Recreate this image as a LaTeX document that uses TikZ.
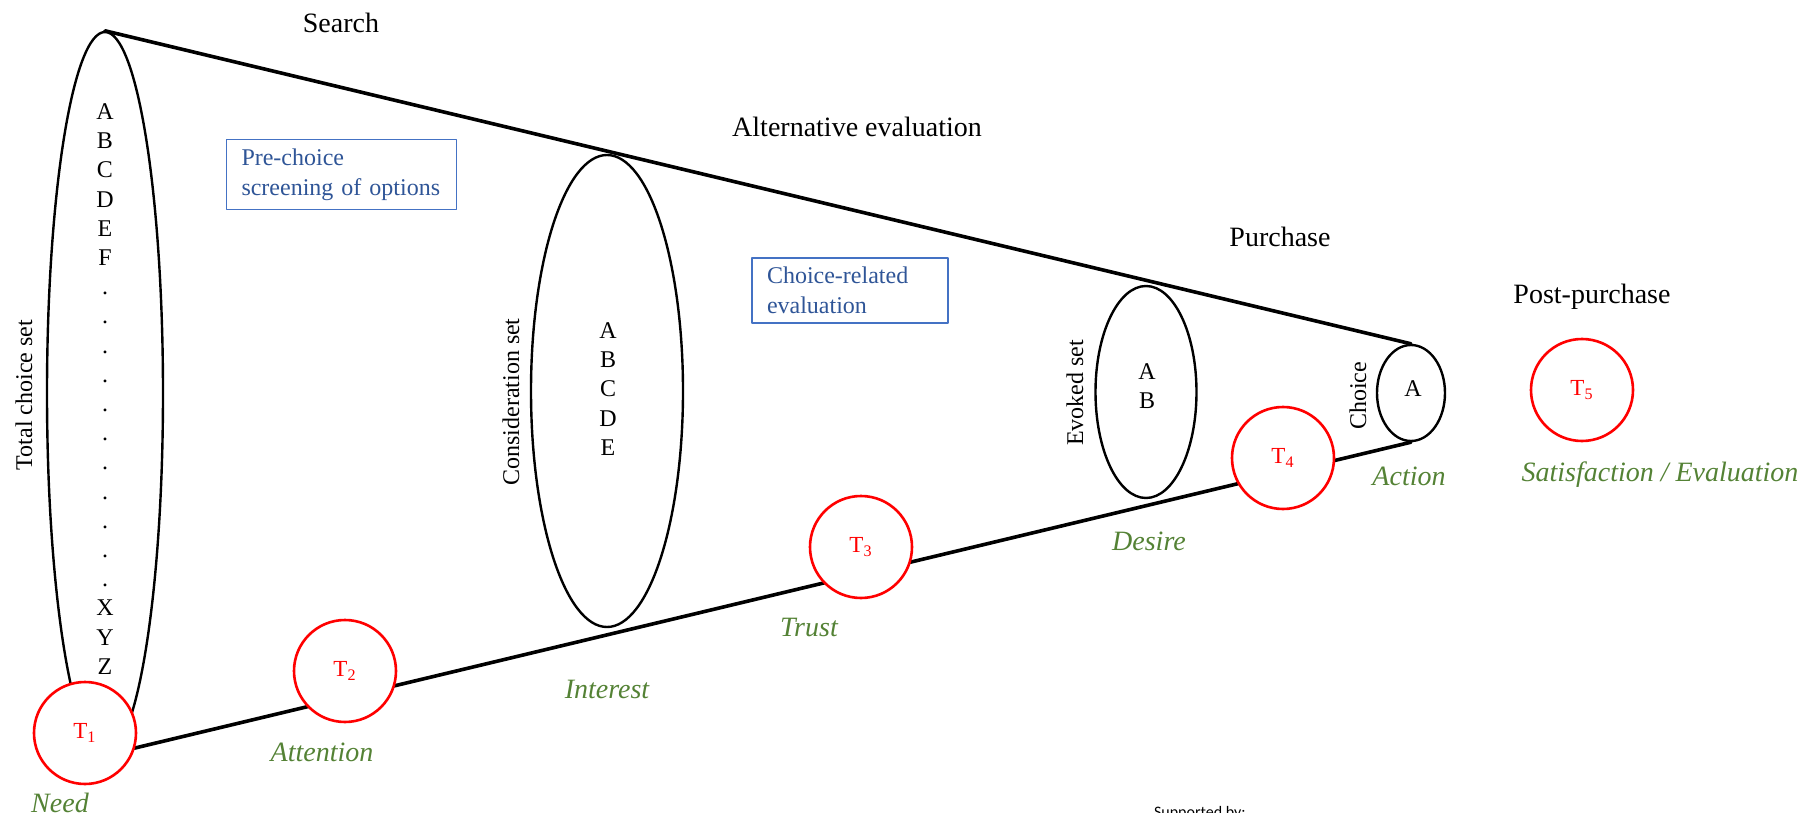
\documentclass[tikz,border=0pt]{standalone}
\usepackage{fontspec}
\setmainfont{Liberation Serif}
\newfontfamily\supfont{Carlito}
\usetikzlibrary{shapes.geometric}
\definecolor{aidagreen}{RGB}{84,130,53}
\definecolor{notetext}{RGB}{47,85,151}
\definecolor{noteline}{RGB}{68,114,196}

\begin{document}
\begin{tikzpicture}[x=0.5pt,y=-0.5pt,line cap=round,line join=round,
  setring/.style={ellipse,draw,line width=1.2pt,inner sep=0pt},
  items/.style={align=center,inner sep=0pt,font=\fontsize{12}{14.6}\selectfont},
  touch/.style={circle,draw=red,fill=white,line width=1.3pt,minimum size=51pt,inner sep=0pt,
    text=red,font=\fontsize{11.5}{13}\selectfont},
  stage/.style={font=\fontsize{14}{16}\selectfont},
  aida/.style={text=aidagreen,font=\fontsize{14}{16}\selectfont\itshape},
  setname/.style={rotate=90,font=\fontsize{12}{14}\selectfont},
  note/.style={draw=noteline,line width=0.6pt,text=notetext,align=left,
    font=\fontsize{12}{15}\selectfont,inner xsep=7.5pt,inner ysep=4.5pt},
  cone/.style={line width=1.8pt}]
  \useasboundingbox (0,0) rectangle (1812,813);
  \clip (0,0) rectangle (1812,813);

  % the four sets
  \node[setring,minimum width=58pt,minimum height=361pt] (total) at (105,393) {};
  \node[setring,minimum width=76pt,minimum height=236pt] (consid) at (607,391) {};
  \node[setring,minimum width=50.5pt,minimum height=106pt] (evoked) at (1146,392) {};
  \node[setring,minimum width=34pt,minimum height=48pt] (choice) at (1411,393) {};

  \node[items] (totalitems) at (105,389)
    {A\\B\\C\\D\\E\\F\\.\\.\\.\\.\\.\\.\\.\\.\\.\\.\\.\\X\\Y\\Z};
  \node[items] (considitems) at (608,389) {A\\B\\C\\D\\E};
  \node[items] (evokeditems) at (1147,386) {A\\B};
  \node[items] (choiceitems) at (1413,389) {A};

  \node[setname] (totalname) at (24,395) {Total choice set};
  \node[setname] (considname) at (511,402) {Consideration set};
  \node[setname] (evokedname) at (1075,393) {Evoked set};
  \node[setname] (choicename) at (1358,396) {Choice};

  % funnel
  \draw[cone] (total.north) -- (choice.north);
  \draw[cone] (total.south) -- (choice.south);

  % touchpoints
  \node[touch] (t1) at (85,733) {T\textsubscript{1}};
  \node[touch] (t2) at (345,671) {T\textsubscript{2}};
  \node[touch] (t3) at (861,547) {T\textsubscript{3}};
  \node[touch] (t4) at (1283,458) {T\textsubscript{4}};
  \node[touch] (t5) at (1582,390) {T\textsubscript{5}};

  \node[aida] (need) at (60,803) {Need};
  \node[aida] (attention) at (322,752) {Attention};
  \node[aida] (interest) at (607,689) {Interest};
  \node[aida] (trust) at (809,627) {Trust};
  \node[aida] (desire) at (1149,541) {Desire};
  \node[aida] (action) at (1409,476) {Action};
  \node[aida] (satisfaction) at (1660,475) {Satisfaction / Evaluation};

  \node[stage] (search) at (341,23) {Search};
  \node[stage] (alternative) at (857,127) {Alternative evaluation};
  \node[stage] (purchase) at (1280,237) {Purchase};
  \node[stage] (postpurchase) at (1592,297) {Post-purchase};

  \node[note,text width=100pt] (prechoice) at (341.5,174.5) {Pre-choice\\screening of options};
  \node[note,text width=83pt] (choicerelated) at (850,290.5) {Choice-related\\evaluation};

  \node[anchor=base west,font=\supfont\fontsize{8}{9}\selectfont] (supported) at (1147,817) {Supported by:};
\end{tikzpicture}
\end{document}
